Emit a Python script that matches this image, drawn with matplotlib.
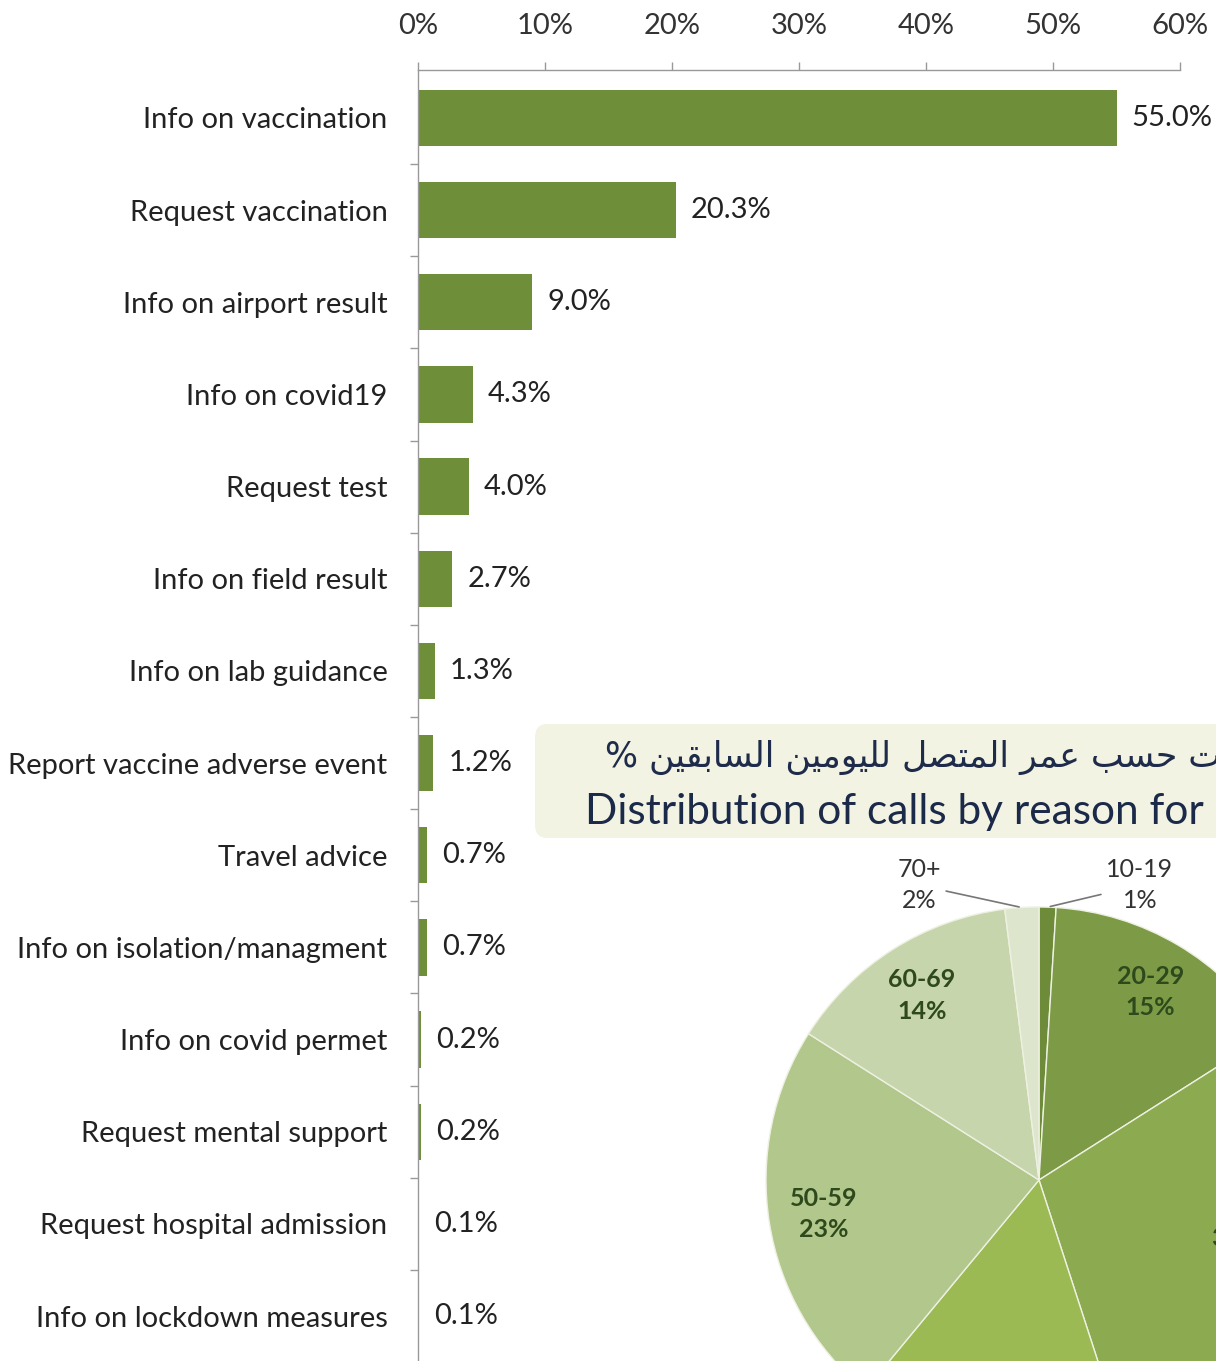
import numpy as np
import matplotlib.pyplot as plt
from matplotlib.patches import FancyBboxPatch

# bar chart data: share of calls by reason
reasons = ['Info on vaccination', 'Request vaccination', 'Info on airport result',
           'Info on covid19', 'Request test', 'Info on field result',
           'Info on lab guidance', 'Report vaccine adverse event', 'Travel advice',
           'Info on isolation/managment', 'Info on covid permet',
           'Request mental support', 'Request hospital admission',
           'Info on lockdown measures']
shares = [55.0, 20.3, 9.0, 4.3, 4.0, 2.7, 1.3, 1.2, 0.7, 0.7, 0.2, 0.2, 0.1, 0.1]
x_ticks = [0, 10, 20, 30, 40, 50, 60]

# pie chart data: calls by caller age
age_groups = ['10-19', '20-29', '30-39', '40-49', '50-59', '60-69', '70+']
age_shares = [1, 15, 29, 16, 23, 14, 2]
age_colors = ['#6d8b39', '#7d9b47', '#8caa4f', '#9cba53', '#b2c78c', '#c7d5ac', '#dde5cc']

title_ar = 'توزيع المكالمات حسب عمر المتصل لليومين السابقين %'
title_en = 'Distribution of calls by reason for'

# arabic letters -> (isolated, final, initial, medial) presentation forms
AR_FORMS = {
    'ا': (0xFE8D, 0xFE8E, None, None),
    'ب': (0xFE8F, 0xFE90, 0xFE91, 0xFE92),
    'ت': (0xFE95, 0xFE96, 0xFE97, 0xFE98),
    'ح': (0xFEA1, 0xFEA2, 0xFEA3, 0xFEA4),
    'ر': (0xFEAD, 0xFEAE, None, None),
    'ز': (0xFEAF, 0xFEB0, None, None),
    'س': (0xFEB1, 0xFEB2, 0xFEB3, 0xFEB4),
    'ص': (0xFEB9, 0xFEBA, 0xFEBB, 0xFEBC),
    'ع': (0xFEC9, 0xFECA, 0xFECB, 0xFECC),
    'ق': (0xFED5, 0xFED6, 0xFED7, 0xFED8),
    'ك': (0xFED9, 0xFEDA, 0xFEDB, 0xFEDC),
    'ل': (0xFEDD, 0xFEDE, 0xFEDF, 0xFEE0),
    'م': (0xFEE1, 0xFEE2, 0xFEE3, 0xFEE4),
    'ن': (0xFEE5, 0xFEE6, 0xFEE7, 0xFEE8),
    'و': (0xFEED, 0xFEEE, None, None),
    'ي': (0xFEF1, 0xFEF2, 0xFEF3, 0xFEF4),
}


def shape_arabic(text):
    # matplotlib has no arabic shaping, so pick joined forms and reverse
    out = []
    for i, ch in enumerate(text):
        if ch not in AR_FORMS:
            out.append(ch)
            continue
        prev = text[i - 1] if i > 0 else ''
        nxt = text[i + 1] if i + 1 < len(text) else ''
        iso, fin, ini, med = AR_FORMS[ch]
        join_prev = prev in AR_FORMS and AR_FORMS[prev][2] is not None
        join_next = ini is not None and nxt in AR_FORMS
        if join_prev and join_next:
            code = med
        elif join_prev:
            code = fin
        elif join_next:
            code = ini
        else:
            code = iso
        out.append(chr(code))
    return ''.join(reversed(out))


W, H = 1216, 1361
plt.rcParams['font.family'] = ['Lato', 'DejaVu Sans']
fig = plt.figure(figsize=(W / 100, H / 100), dpi=100)
fig.patch.set_facecolor('white')

# ---- bar chart ----
ax = fig.add_axes([418 / W, 0, 762 / W, 1 - 70 / H])
ax.set_facecolor('none')
y = np.arange(len(reasons))
ax.barh(y, shares, height=0.61, color='#6e8e3a')
ax.set_xlim(0, 60)
ax.set_ylim(13 + 45 / 92.2, -48 / 92.2)

ax.xaxis.tick_top()
ax.set_xticks(x_ticks)
ax.set_xticklabels([f'{t}%' for t in x_ticks])
ax.tick_params(axis='x', length=6, width=1, color='#999999', pad=16,
               labelsize=21, labelcolor='#333333')
ax.set_yticks(y)
ax.set_yticklabels(reasons)
ax.set_yticks(np.arange(len(reasons) - 1) + 0.5, minor=True)
ax.tick_params(axis='y', which='major', length=0, pad=22, labelsize=21,
               labelcolor='#222222')
ax.tick_params(axis='y', which='minor', length=6, width=1, color='#999999')

for s in ['right', 'bottom']:
    ax.spines[s].set_visible(False)
for s in ['top', 'left']:
    ax.spines[s].set_color('#999999')
    ax.spines[s].set_linewidth(1)

for yi, v in zip(y, shares):
    ax.annotate(f'{v:.1f}%', (v, yi), xytext=(11, 0), textcoords='offset points',
                ha='left', va='center', fontsize=21, color='#222222')

# ---- pie title box ----
box = FancyBboxPatch((535 / W, 1 - 838 / H), 700 / W, 114 / H,
                     boxstyle='round,pad=0,rounding_size=0.01',
                     transform=fig.transFigure, facecolor='#f2f3e2',
                     edgecolor='none', zorder=-1)
fig.patches.append(box)
fig.text(605 / W, 1 - 758 / H, shape_arabic(title_ar), ha='left', va='center',
         family='DejaVu Sans', fontsize=25, color='#1f2b4a')
fig.text(585 / W, 1 - 812 / H, title_en, ha='left', va='center',
         fontsize=30.5, color='#1c2a4a')

# ---- pie chart ----
cx, cy, r = 1039, 1180, 273
pax = fig.add_axes([(cx - r) / W, (H - cy - r) / H, 2 * r / W, 2 * r / H])
pax.set_facecolor('none')
wedges, _ = pax.pie(age_shares, colors=age_colors, startangle=90, counterclock=False,
                    wedgeprops=dict(edgecolor='#eef1e2', linewidth=1))
pax.set_aspect('auto')
pax.set_xlim(-1, 1)
pax.set_ylim(-1, 1)
pax.axis('off')

for w, grp, v in zip(wedges, age_groups, age_shares):
    mid = np.deg2rad((w.theta1 + w.theta2) / 2)
    lab = f'{grp}\n{v}%'
    if v < 5:
        side = 1 if np.cos(mid) >= 0 else -1
        tx = 0.37 if side > 0 else -0.44
        pax.annotate(lab, (np.cos(mid), np.sin(mid)), xytext=(tx, 1.08),
                     ha='center', va='center', fontsize=18, color='#333333',
                     linespacing=1.45,
                     arrowprops=dict(arrowstyle='-', color='#777777', lw=1.2))
    else:
        pax.text(0.8 * np.cos(mid), 0.8 * np.sin(mid), lab, ha='center', va='center',
                 fontsize=18, fontweight='bold', color='#2e4a1c', linespacing=1.45)

fig.savefig('out.png', dpi=100)
